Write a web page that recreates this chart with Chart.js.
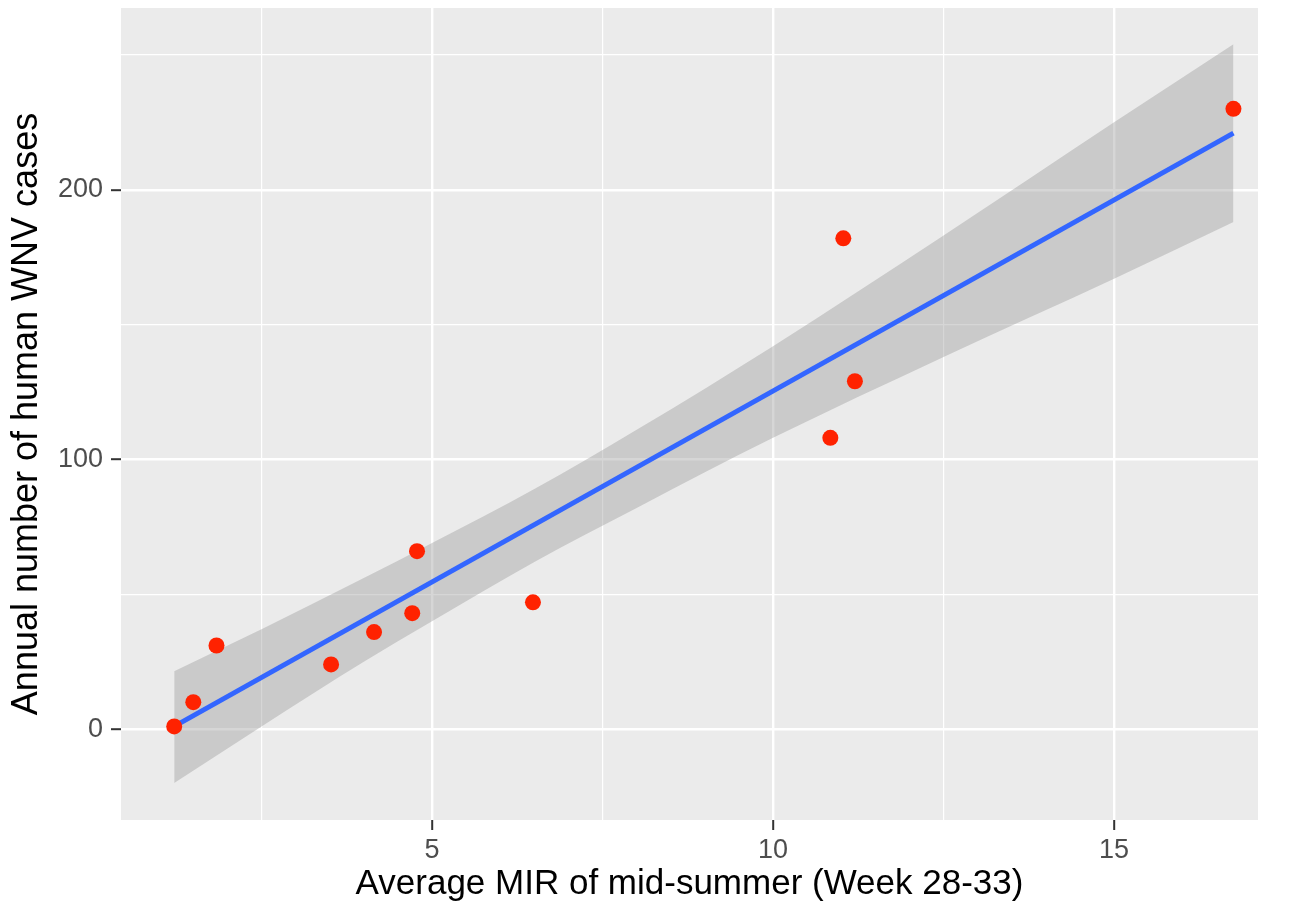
<!DOCTYPE html>
<html>
<head>
<meta charset="utf-8">
<script src="https://cdn.jsdelivr.net/npm/chart.js@4/dist/chart.umd.min.js"></script>
<style>
  html, body { margin: 0; padding: 0; background: #ffffff; }
  canvas { display: block; }
</style>
</head>
<body>
<canvas id="mirChart" width="1291" height="905"></canvas>
<script>
// observed points
const mirValues = [1.22, 1.50, 1.84, 3.52, 4.15, 4.71, 4.78, 6.48, 10.84, 11.03, 11.20, 16.75];
const wnvCases = [1, 10, 31, 24, 36, 43, 66, 47, 108, 182, 129, 230];

// fitted line (ends)
const fitX = [1.22, 16.75];
const fitY = [1, 221];

// confidence band edges
const bandX = [1.22, 2.5, 4, 5, 6.5, 8, 10, 12.5, 15, 16.75];
const bandUpper = [21.5, 37, 56, 69, 89, 111, 142, 183, 225, 254];
const bandLower = [-20, 1, 25, 40, 62, 82, 108, 138, 167, 188];

// axes
const xTicks = [2.5, 5, 7.5, 10, 12.5, 15];
const xLabels = [5, 10, 15];
const yTicks = [0, 50, 100, 150, 200, 250];
const yLabels = [0, 100, 200];

const toPoints = (xs, ys) => xs.map((x, i) => ({ x: x, y: ys[i] }));

const panelBackground = {
  id: "panelBackground",
  beforeDraw(chart) {
    const { ctx, chartArea } = chart;
    ctx.save();
    ctx.fillStyle = "#EBEBEB";
    ctx.fillRect(chartArea.left, chartArea.top,
      chartArea.right - chartArea.left, chartArea.bottom - chartArea.top);
    ctx.restore();
  },
};

const gridStyle = (majors) => ({
  color: "#FFFFFF",
  lineWidth: (c) => (majors.includes(c.tick && c.tick.value) ? 2.4 : 1.2),
  drawTicks: true,
  tickLength: 10,
  tickWidth: 2,
  tickColor: (c) => (majors.includes(c.tick && c.tick.value) ? "#333333" : "rgba(0,0,0,0)"),
});

// keep the panel edges where the picture has them
const noEdgePadding = (s) => {
  s.paddingTop = 0;
  s.paddingBottom = 0;
  s.paddingLeft = 0;
  s.paddingRight = 0;
};

const ctx = document.getElementById("mirChart").getContext("2d");

new Chart(ctx, {
  type: "scatter",
  data: {
    datasets: [
      {
        label: "upper",
        type: "line",
        data: toPoints(bandX, bandUpper),
        borderWidth: 0,
        pointRadius: 0,
        cubicInterpolationMode: "monotone",
        backgroundColor: "rgba(153, 153, 153, 0.4)",
        fill: "+1",
        order: 3,
      },
      {
        label: "lower",
        type: "line",
        data: toPoints(bandX, bandLower),
        borderWidth: 0,
        pointRadius: 0,
        cubicInterpolationMode: "monotone",
        fill: false,
        order: 3,
      },
      {
        label: "fit",
        type: "line",
        data: toPoints(fitX, fitY),
        borderColor: "#3366FF",
        borderWidth: 5,
        pointRadius: 0,
        fill: false,
        order: 2,
      },
      {
        label: "cases",
        data: toPoints(mirValues, wnvCases),
        backgroundColor: "#FF2200",
        borderWidth: 0,
        pointRadius: 8,
        order: 1,
      },
    ],
  },
  options: {
    responsive: false,
    animation: false,
    layout: {
      padding: { top: 7, right: 33, left: 0, bottom: 0 },
    },
    plugins: {
      legend: { display: false },
      tooltip: { enabled: false },
    },
    scales: {
      x: {
        type: "linear",
        min: 0.44,
        max: 17.11,
        afterBuildTicks: (s) => { s.ticks = xTicks.map((v) => ({ value: v })); },
        afterFit: (s) => { s.height = 85; noEdgePadding(s); },
        grid: gridStyle(xLabels),
        border: { display: false },
        ticks: {
          autoSkip: false,
          maxRotation: 0,
          padding: 4,
          color: "#4D4D4D",
          font: { family: "Liberation Sans", size: 27 },
          callback: (v) => (xLabels.includes(v) ? String(v) : ""),
        },
        title: {
          display: true,
          text: "Average MIR of mid-summer (Week 28-33)",
          color: "#000000",
          font: { family: "Liberation Sans", size: 35 },
          padding: { top: 0, bottom: 0 },
        },
      },
      y: {
        type: "linear",
        min: -33.7,
        max: 267.4,
        afterBuildTicks: (s) => { s.ticks = yTicks.map((v) => ({ value: v })); },
        afterFit: (s) => { s.width = 121; noEdgePadding(s); },
        grid: gridStyle(yLabels),
        border: { display: false },
        ticks: {
          autoSkip: false,
          padding: 8,
          color: "#4D4D4D",
          font: { family: "Liberation Sans", size: 27 },
          callback: (v) => (yLabels.includes(v) ? String(v) : ""),
        },
        title: {
          display: true,
          text: "Annual number of human WNV cases",
          color: "#000000",
          font: { family: "Liberation Sans", size: 36 },
          padding: { top: 5, bottom: 0 },
        },
      },
    },
  },
  plugins: [panelBackground],
});
</script>
</body>
</html>
